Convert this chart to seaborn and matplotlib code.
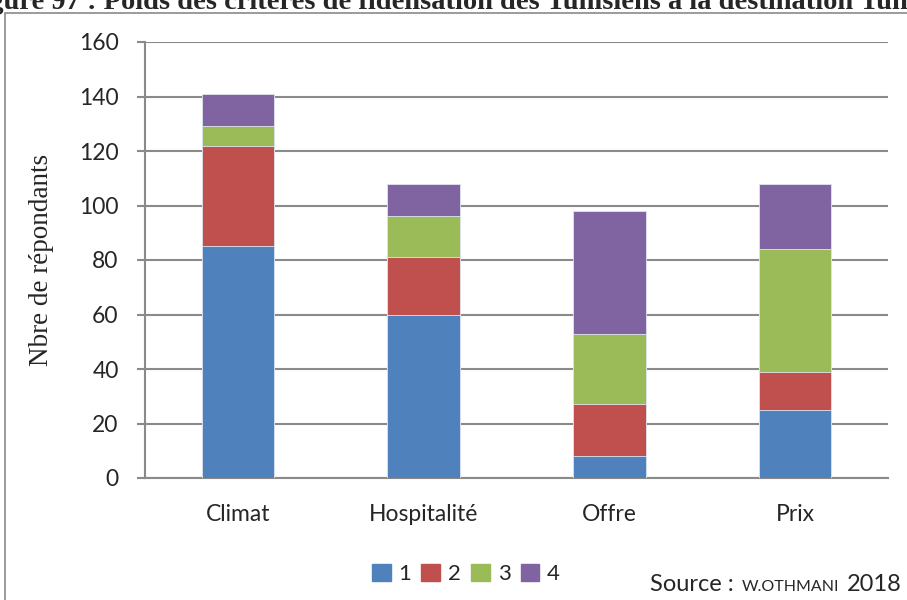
import pandas as pd
import numpy as np
import matplotlib
matplotlib.use('Agg')
import matplotlib.pyplot as plt
from matplotlib.patches import Rectangle, Patch
import seaborn as sns

# valeurs
criteres = ['Climat', 'Hospitalité', 'Offre', 'Prix']
niveaux = ['1', '2', '3', '4']
n1 = [85, 60, 8, 25]
n2 = [37, 21, 19, 14]
n3 = [7, 15, 26, 45]
n4 = [12, 12, 45, 24]
couleurs = ['#4F81BD', '#C0504D', '#9BBB59', '#8064A2']

df = pd.DataFrame({'Critere': criteres, '1': n1, '2': n2, '3': n3, '4': n4})

sns.set_theme(style='white')
plt.rcParams['font.family'] = ['Lato', 'DejaVu Sans']

fig = plt.figure(figsize=(9.07, 6), dpi=100)
ax = fig.add_axes([145 / 907, 1 - 478 / 600, 743 / 907, 436 / 600])

# barres empilées : on trace les cumuls du haut vers le bas
cumul = df[niveaux].cumsum(axis=1)
for niv, col in reversed(list(zip(niveaux, couleurs))):
    sns.barplot(x=df['Critere'], y=cumul[niv], color=col, width=0.39,
                saturation=1, edgecolor='#dfe6f0', linewidth=0.6, ax=ax, zorder=3)

ax.set_ylim(0, 160)
ax.set_xlim(-0.5, 3.5)
ax.set_yticks(range(0, 161, 20))
ax.yaxis.grid(True, color='#8a8a8a', linewidth=1.5, zorder=0)
ax.set_axisbelow(True)
for s in ['top', 'right']:
    ax.spines[s].set_visible(False)
for s in ['left', 'bottom']:
    ax.spines[s].set_color('#8a8a8a')
    ax.spines[s].set_linewidth(1.5)

ax.set_xticks(range(4))
ax.set_xticklabels(criteres, fontsize=16.5)
ax.tick_params(axis='x', length=0, pad=19)
ax.set_xticks(np.arange(-0.5, 4, 1), minor=True)
ax.tick_params(axis='x', which='minor', length=6, width=1.5, color='#8a8a8a', direction='out')
ax.tick_params(axis='y', labelsize=16.5, length=6, width=1.5, color='#8a8a8a',
               direction='out', pad=13, left=True)
ax.set_xlabel('')
ax.set_ylabel('Nbre de répondants', fontsize=19.5, family='Liberation Serif', labelpad=18)

# légende en bas
handles = [Patch(color=c, label=n) for n, c in zip(niveaux, couleurs)]
fig.legend(handles=handles, loc='center', bbox_to_anchor=(466 / 907, 1 - 574 / 600), ncol=4,
           frameon=False, fontsize=16, handlelength=0.85, handleheight=0.85,
           handletextpad=0.35, columnspacing=0.45)

# cadre extérieur
fig.patches.append(Rectangle((5 / 907, -0.1), 1.2, 1 - 13 / 600 + 0.1, transform=fig.transFigure,
                             fill=False, edgecolor='#8a8a8a', linewidth=1.2))

# titre coupé en haut
fig.text(-36 / 907, 1 - 9 / 600, 'Figure 97 : Poids des critères de fidélisation des Tunisiens à la destination Tunisie',
         family='Liberation Serif', fontweight='bold', fontsize=20.5, ha='left', va='baseline')

# source
fig.text(650 / 907, 1 - 591 / 600, 'Source :', fontsize=17, ha='left', va='baseline')
fig.text(742 / 907, 1 - 591 / 600, 'W.OTHMANI', fontsize=11.5, ha='left', va='baseline')
fig.text(847 / 907, 1 - 591 / 600, '2018', fontsize=17, ha='left', va='baseline')

fig.savefig('out.png', dpi=100)
